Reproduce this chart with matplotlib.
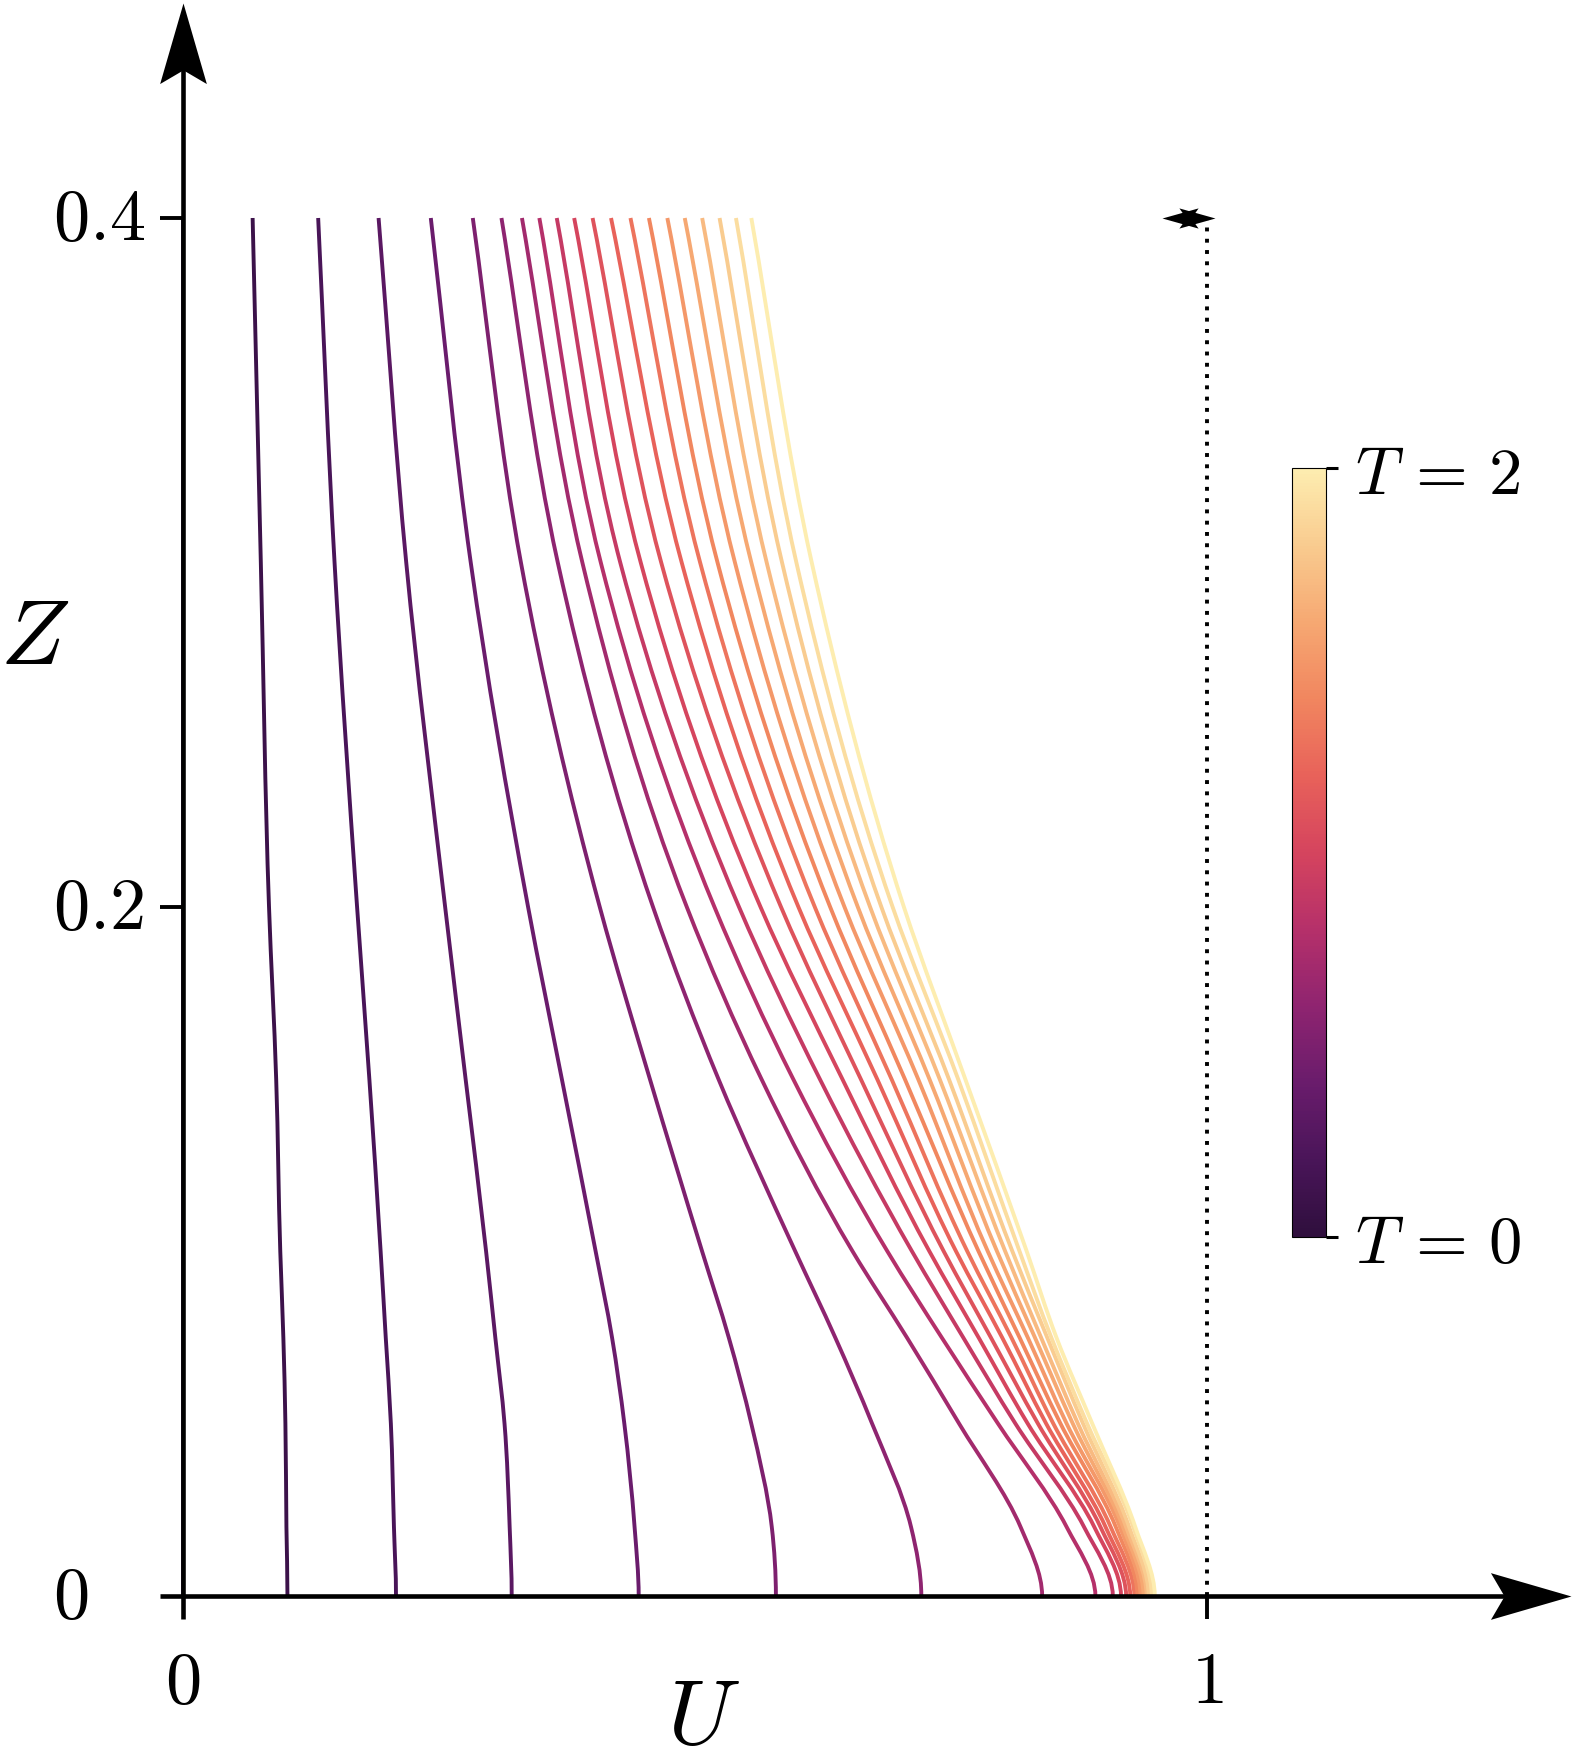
import numpy as np
import matplotlib
matplotlib.use("Agg")
import matplotlib.pyplot as plt
from matplotlib.colors import LinearSegmentedColormap, Normalize
from matplotlib.cm import ScalarMappable
from matplotlib.path import Path
from matplotlib.patches import PathPatch

plt.rcParams['mathtext.fontset'] = 'cm'

# times of the profiles (T=0 is the line U=0)
T = [0.0, 0.1, 0.2, 0.3, 0.4, 0.5, 0.6, 0.7, 0.8, 0.9, 1.0,
     1.1, 1.2, 1.3, 1.4, 1.5, 1.6, 1.7, 1.8, 1.9, 2.0]

# heights where the profiles were read
Z = [0.40, 0.30, 0.20, 0.15, 0.10, 0.075, 0.05, 0.02, 0.0]

# U of each profile (T=0.1 ... 2.0) at each height
U_z400 = [0.068, 0.132, 0.191, 0.242, 0.283, 0.311, 0.331, 0.348, 0.365, 0.382,
          0.400, 0.418, 0.437, 0.455, 0.473, 0.490, 0.507, 0.524, 0.540, 0.555]
U_z300 = [0.076, 0.148, 0.218, 0.281, 0.330, 0.366, 0.390, 0.408, 0.427, 0.447,
          0.467, 0.487, 0.505, 0.522, 0.539, 0.555, 0.570, 0.585, 0.599, 0.614]
U_z200 = [0.084, 0.170, 0.256, 0.337, 0.407, 0.459, 0.492, 0.519, 0.543, 0.564,
          0.584, 0.601, 0.617, 0.632, 0.646, 0.659, 0.671, 0.682, 0.693, 0.704]
U_z150 = [0.091, 0.182, 0.276, 0.370, 0.456, 0.523, 0.565, 0.596, 0.622, 0.644,
          0.662, 0.678, 0.692, 0.705, 0.718, 0.729, 0.739, 0.748, 0.757, 0.764]
U_z100 = [0.095, 0.193, 0.296, 0.403, 0.507, 0.598, 0.654, 0.688, 0.712, 0.729,
          0.743, 0.755, 0.766, 0.777, 0.786, 0.795, 0.803, 0.810, 0.817, 0.824]
U_z075 = [0.098, 0.198, 0.305, 0.419, 0.533, 0.637, 0.707, 0.741, 0.762, 0.777,
          0.789, 0.800, 0.809, 0.817, 0.825, 0.832, 0.838, 0.844, 0.848, 0.853]
U_z050 = [0.100, 0.203, 0.314, 0.431, 0.555, 0.673, 0.758, 0.796, 0.813, 0.825,
          0.835, 0.843, 0.850, 0.857, 0.863, 0.869, 0.874, 0.879, 0.883, 0.888]
U_z020 = [0.101, 0.206, 0.319, 0.441, 0.575, 0.711, 0.818, 0.863, 0.880, 0.890,
          0.896, 0.901, 0.906, 0.911, 0.915, 0.918, 0.921, 0.924, 0.928, 0.930]
U_z000 = [0.102, 0.208, 0.321, 0.445, 0.579, 0.721, 0.839, 0.891, 0.908, 0.916,
          0.921, 0.925, 0.929, 0.932, 0.935, 0.938, 0.941, 0.943, 0.946, 0.949]

rows = [U_z400, U_z300, U_z200, U_z150, U_z100, U_z075, U_z050, U_z020, U_z000]
U = np.array([[0.0] + r for r in rows])

# colormap (dark purple -> light yellow)
cmap = LinearSegmentedColormap.from_list("matter_r", [
    "#2f0f3d", "#4a1559", "#6a1c6c", "#8f2470", "#b5306a", "#d5445e",
    "#e8625a", "#f1865f", "#f6a872", "#f9cb8f", "#fdedb0"])
norm = Normalize(0, 2)


def smooth_path(u, z):
    # cubic bezier through the read points (hermite tangents, dU/dZ = 0 at the wall)
    u = np.asarray(u, float)
    z = np.asarray(z, float)
    n = len(z)
    m = np.zeros(n)
    for i in range(1, n - 1):
        h0 = z[i] - z[i - 1]
        h1 = z[i + 1] - z[i]
        d0 = (u[i] - u[i - 1]) / h0
        d1 = (u[i + 1] - u[i]) / h1
        m[i] = (d0 * h1 + d1 * h0) / (h0 + h1)
    m[0] = (u[1] - u[0]) / (z[1] - z[0])
    m[-1] = 0.0
    verts = [(u[0], z[0])]
    codes = [Path.MOVETO]
    for i in range(n - 1):
        h = z[i + 1] - z[i]
        verts += [(u[i] + m[i] * h / 3, z[i] + h / 3),
                  (u[i + 1] - m[i + 1] * h / 3, z[i + 1] - h / 3),
                  (u[i + 1], z[i + 1])]
        codes += [Path.CURVE4] * 3
    return Path(verts, codes)


fig = plt.figure(figsize=(15.73, 17.6), dpi=100)
ax = fig.add_axes([0, 0, 1, 1])
ax.set_axis_off()
ax.set_xlim(-183 / 1024, (1573 - 183) / 1024)
ax.set_ylim(-164 / 3445, 1596 / 3445)

for j, t in enumerate(T):
    ax.add_patch(PathPatch(smooth_path(U[:, j], Z), fill=False,
                           edgecolor=cmap(norm(t)), lw=2.8, zorder=2))

# stealth arrow heads as markers
up = Path([(0, 0), (0.29, -1), (0, -0.83), (-0.29, -1), (0, 0)],
          [Path.MOVETO, Path.LINETO, Path.LINETO, Path.LINETO, Path.CLOSEPOLY])
right = Path([(0, 0), (-1, 0.29), (-0.83, 0), (-1, -0.29), (0, 0)],
             [Path.MOVETO, Path.LINETO, Path.LINETO, Path.LINETO, Path.CLOSEPOLY])
left = Path([(0, 0), (1, 0.28), (0.8, 0), (1, -0.28), (0, 0)],
            [Path.MOVETO, Path.LINETO, Path.LINETO, Path.LINETO, Path.CLOSEPOLY])
right_s = Path([(0, 0), (-1, 0.28), (-0.8, 0), (-1, -0.28), (0, 0)],
               [Path.MOVETO, Path.LINETO, Path.LINETO, Path.LINETO, Path.CLOSEPOLY])

tu = 23 / 1024
tz = 23 / 3445
ax.plot([0, 0], [-tz, 0.45], color='k', lw=3.3, zorder=5, solid_capstyle='butt')
ax.plot([-tu, 1.33], [0, 0], color='k', lw=3.3, zorder=5, solid_capstyle='butt')
ax.plot([0], [0.4625], marker=up, ms=116, color='k', mew=0, clip_on=False, zorder=6)
ax.plot([1.355], [0], marker=right, ms=116, color='k', mew=0, clip_on=False, zorder=6)

# ticks
for z in [0.2, 0.4]:
    ax.plot([-tu, 0], [z, z], color='k', lw=2.8, zorder=5, solid_capstyle='butt')
ax.plot([1, 1], [0, -tz], color='k', lw=2.8, zorder=5, solid_capstyle='butt')

# tick labels
for z, lab in zip([0.4, 0.2, 0.0], ['$0.4$', '$0.2$', '$0$']):
    ax.text(-0.127, z - 0.0008, lab, ha='left', va='center', fontsize=52)
for u, lab in zip([0, 1], ['$0$', '$1$']):
    ax.text(u, -0.0253, lab, ha='center', va='center', fontsize=52)

ax.text(0.508, -0.0355, '$U$', ha='center', va='center', fontsize=67)
ax.text(-0.145, 0.278, '$Z$', ha='center', va='center', fontsize=67)

# dotted line at U=1 and small double arrow at its top
ax.plot([1, 1], [0, 0.4], color='k', lw=2.8, dashes=(1, 1.9), zorder=3)
ax.plot([0.956], [0.4], marker=left, ms=52, color='k', mew=0, zorder=6)
ax.plot([1.008], [0.4], marker=right_s, ms=52, color='k', mew=0, zorder=6)

# colorbar
cax = fig.add_axes([1292 / 1573, 1 - 1237 / 1760, 34 / 1573, (1237 - 468) / 1760])
cb = fig.colorbar(ScalarMappable(norm=norm, cmap=cmap), cax=cax, ticks=[0, 2])
cb.set_ticklabels([r'$T\,=\,0$', r'$T\,=\,2$'])
cax.tick_params(length=8.6, width=2.2, labelsize=48, pad=12)
cb.outline.set_linewidth(0.8)

fig.savefig("out.png", dpi=100)
